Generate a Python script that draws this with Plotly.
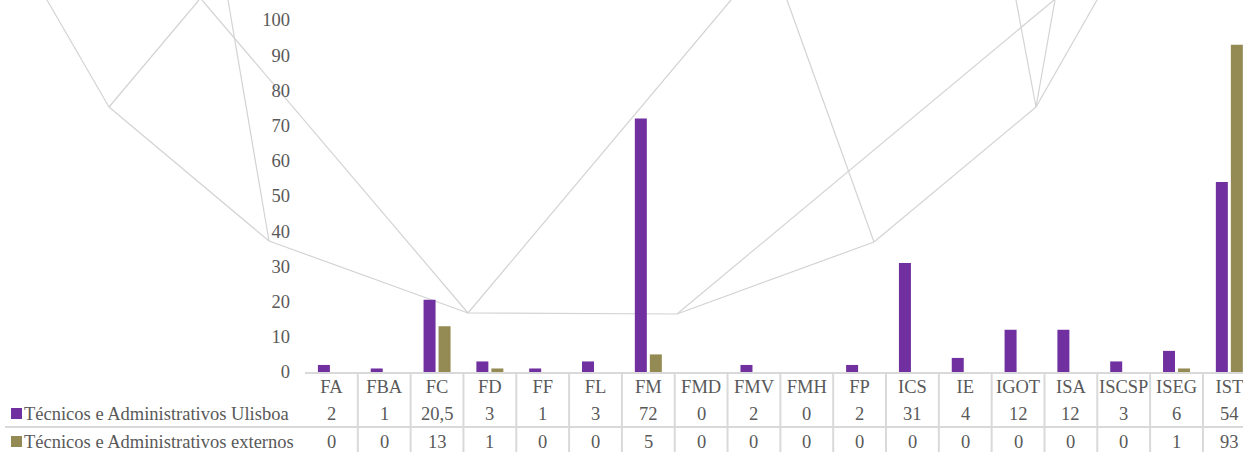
import plotly.graph_objects as go

# ---- data -------------------------------------------------------------
categories = ["FA", "FBA", "FC", "FD", "FF", "FL", "FM", "FMD", "FMV", "FMH",
              "FP", "ICS", "IE", "IGOT", "ISA", "ISCSP", "ISEG", "IST"]
ulisboa = [2, 1, 20.5, 3, 1, 3, 72, 0, 2, 0, 2, 31, 4, 12, 12, 3, 6, 54]
externos = [0, 0, 13, 1, 0, 0, 5, 0, 0, 0, 0, 0, 0, 0, 0, 0, 1, 93]
series_names = ["Técnicos e Administrativos Ulisboa",
                "Técnicos e Administrativos externos"]
series_values = [ulisboa, externos]
series_colors = ["#7030A0", "#948A54"]
y_ticks = list(range(0, 101, 10))

# ---- geometry (pixels) ------------------------------------------------
W, H = 1243, 452
PLOT_L, PLOT_T, PLOT_B = 305, 20, 372
CAT_W = 52.82
FONT = "Liberation Serif, Times New Roman, serif"
FS = 18.5
TXT = "#595959"
GRID = "#D9D9D9"


def px2paper(x, y):
    return (x - PLOT_L) / (W - PLOT_L), (PLOT_B - y) / (PLOT_B - PLOT_T)


def fmt(v):
    return f"{v:g}".replace(".", ",")


fig = go.Figure()
for name, vals, color in zip(series_names, series_values, series_colors):
    fig.add_trace(go.Bar(x=categories, y=vals, name=name,
                         marker=dict(color=color, line=dict(width=0))))

shapes = []
annotations = []

# background line art
art = [
    ((47, 0), (109, 107)), ((109, 107), (199, 0)), ((109, 107), (269, 241)),
    ((228, 0), (269, 241)), ((202, 0), (468, 313)), ((269, 241), (468, 313)),
    ((468, 313), (677, 314)), ((468, 313), (731, 0)), ((677, 314), (874, 242)),
    ((787, 0), (874, 242)), ((677, 314), (1054, 0)), ((874, 242), (1036, 107)),
    ((1016, 0), (1036, 107)), ((1055, 0), (1036, 107)), ((1097, 0), (1036, 107)),
]
for (a, b) in art:
    x0, y0 = px2paper(*a)
    x1, y1 = px2paper(*b)
    shapes.append(dict(type="line", xref="paper", yref="paper",
                       x0=x0, y0=y0, x1=x1, y1=y1, layer="below",
                       line=dict(color="#D3D3D3", width=1.2)))

# data table grid
_, y_bot = px2paper(0, H + 5)
for k in range(1, len(categories) + 1):
    shapes.append(dict(type="line", xref="x", yref="paper",
                       x0=k - 0.5, x1=k - 0.5, y0=0, y1=y_bot,
                       line=dict(color=GRID, width=2)))
hx0, hy = px2paper(5, 427)
shapes.append(dict(type="line", xref="paper", yref="paper",
                   x0=hx0, x1=1.05, y0=hy, y1=hy,
                   line=dict(color=GRID, width=2)))

# data table rows: legend key + values
row_y = [414, 442]
for name, vals, color, ry in zip(series_names, series_values, series_colors, row_y):
    kx0, ky0 = px2paper(11, ry - 6)
    kx1, ky1 = px2paper(22, ry + 5)
    shapes.append(dict(type="rect", xref="paper", yref="paper",
                       x0=kx0, x1=kx1, y0=ky0, y1=ky1,
                       fillcolor=color, line=dict(width=0)))
    tx, ty = px2paper(22, ry)
    annotations.append(dict(text=name, xref="paper", yref="paper", x=tx, y=ty,
                            xanchor="left", yanchor="middle", showarrow=False,
                            font=dict(family=FONT, size=FS, color=TXT)))
    for cat, v in zip(categories, vals):
        annotations.append(dict(text=fmt(v), xref="x", yref="paper", x=cat, y=ty,
                                xanchor="center", yanchor="middle", showarrow=False,
                                font=dict(family=FONT, size=FS, color=TXT)))

fig.update_layout(
    width=W, height=H,
    margin=dict(l=PLOT_L, r=0, t=PLOT_T, b=H - PLOT_B, pad=0),
    paper_bgcolor="white", plot_bgcolor="rgba(0,0,0,0)",
    showlegend=False,
    barmode="group", bargap=0.432, bargroupgap=0.2,
    shapes=shapes, annotations=annotations,
    xaxis=dict(type="category", range=[-0.5, -0.5 + (W - PLOT_L) / CAT_W],
               showline=True, linecolor=GRID, linewidth=2, ticks="",
               showgrid=False, zeroline=False, ticklabelstandoff=-3,
               tickfont=dict(family=FONT, size=FS, color=TXT)),
    yaxis=dict(range=[0, 100], tickvals=y_ticks, showgrid=False, zeroline=False,
               showline=False, ticks="", ticklabelstandoff=14,
               tickfont=dict(family=FONT, size=FS, color=TXT)),
)

fig.write_html("out.html")
